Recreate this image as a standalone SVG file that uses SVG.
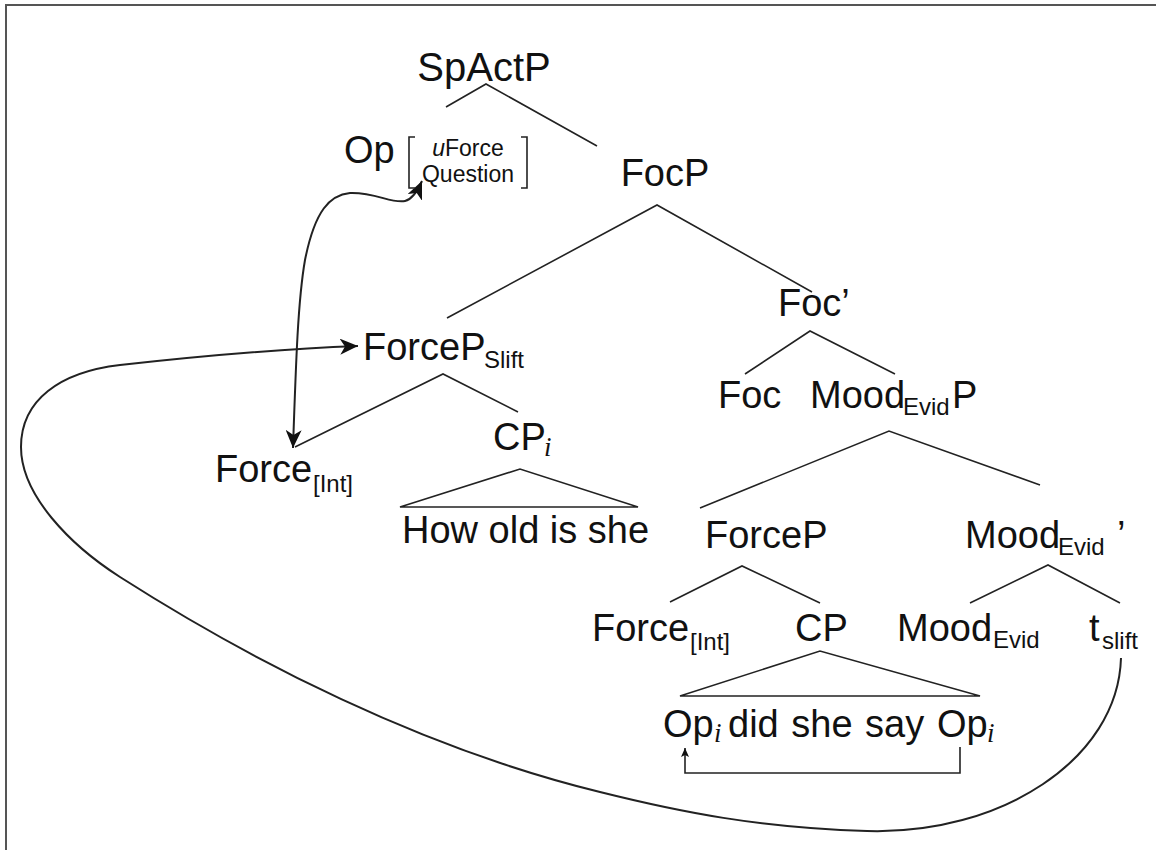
<svg xmlns="http://www.w3.org/2000/svg" width="1156" height="850" viewBox="0 0 1156 850">
<style>
text{font-family:"Liberation Sans",Arial,sans-serif;fill:#111;}
.n{font-size:38px;}
.s{font-size:24px;}
.m{font-size:23px;}
.i{font-family:"Liberation Serif","Times New Roman",serif;font-style:italic;font-size:27px;}
.br{fill:none;stroke:#222;stroke-width:1.6;}
.e{stroke:#222;stroke-width:1.6;fill:none;}
.c{stroke:#222;stroke-width:2;fill:none;}
</style>
<defs>
<marker id="ah" markerUnits="userSpaceOnUse" markerWidth="20" markerHeight="16" refX="18" refY="8" orient="auto-start-reverse">
<path d="M0,0 L18,8 L0,16 L5,8 z" fill="#111"/>
</marker>
<marker id="ahs" markerUnits="userSpaceOnUse" markerWidth="10" markerHeight="10" refX="9" refY="4" orient="auto">
<path d="M0,0 L9,4 L0,8 L2,4 z" fill="#111"/>
</marker>
</defs>
<rect x="6" y="5" width="1170" height="870" fill="#fff" stroke="#555" stroke-width="2"/>

<g id="edges">
<path class="e" d="M446,107 L486,84 L597,146"/>
<path class="e" d="M447,318 L657,205 L812,292"/>
<path class="e" d="M745,374 L810,331 L895,374"/>
<path class="e" d="M700,508 L889,431 L1040,485"/>
<path class="e" d="M670,602 L742,566 L820,603"/>
<path class="e" d="M970,603 L1048,565 L1120,603"/>
<path class="e" d="M295,447 L443,374 L518,412"/>
<path class="e" d="M400,507 L520,469 L638,507 Z"/>
<path class="e" d="M680,696 L820,651 L980,696 Z"/>
<path class="e" d="M960,747 L960,773 L685,773 L685,748" marker-end="url(#ahs)"/>
<path class="c" d="M293,448 C296,360 298,300 305,260 C315,210 330,195 350,193 C375,192 392,204 405,201 C413,199 418,190 422,181" marker-start="url(#ah)" marker-end="url(#ah)"/>
<path class="c" d="M1121,658 C1118,760 1000,835 867,831 C760,828 680,812 600,792 C420,748 250,660 120,577 C70,545 21,495 21,447 C21,400 60,372 120,365 C200,356 280,349 358,346" marker-end="url(#ah)"/>
</g>

<g id="spactp"><text x="484" y="81" text-anchor="middle" style="font-size:40px">SpActP</text></g>
<g id="op">
<text class="n" x="344" y="163">Op</text>
<path class="br" d="M415,137 L409,137 L409,188 L415,188"/>
<path class="br" d="M521,137 L527,137 L527,188 L521,188"/>
<text class="m" x="468" y="156" text-anchor="middle"><tspan font-style="italic">u</tspan>Force</text>
<text class="m" x="468" y="182" text-anchor="middle">Question</text>
</g>
<g id="focp"><text class="n" x="665" y="186" text-anchor="middle">FocP</text></g>
<g id="focbar"><text class="n" x="778" y="316">Foc’</text></g>
<g id="foc"><text class="n" x="718" y="408">Foc</text></g>
<g id="moodevidp"><text class="n" x="810" y="408">Mood</text><text class="s" x="903" y="415">Evid</text><text class="n" x="952" y="408">P</text></g>
<g id="forcep"><text class="n" x="705" y="548">ForceP</text></g>
<g id="moodevidbar"><text class="n" x="965" y="548">Mood</text><text class="s" x="1058" y="555">Evid</text><text class="n" x="1117" y="548">’</text></g>
<g id="force2"><text class="n" x="592" y="641">Force</text><text class="s" x="690" y="650">[Int]</text></g>
<g id="cp"><text class="n" x="795" y="641">CP</text></g>
<g id="moodevid"><text class="n" x="897" y="641">Mood</text><text class="s" x="993" y="648">Evid</text></g>
<g id="tslift"><text class="n" x="1089" y="641">t</text><text class="s" x="1102" y="649">slift</text></g>
<g id="cpyield"><text class="n" x="663" y="737">Op</text><text class="i" x="714" y="742">i</text><text class="n" x="728" y="737" word-spacing="2">did she say</text><text class="n" x="937" y="737">Op</text><text class="i" x="987" y="742">i</text></g>
<g id="forcepslift"><text class="n" x="363" y="360">ForceP</text><text class="s" x="484" y="368">Slift</text></g>
<g id="force1"><text class="n" x="215" y="482">Force</text><text class="s" x="313" y="492">[Int]</text></g>
<g id="cpi"><text class="n" x="493" y="450">CP</text><text class="i" x="544" y="456">i</text></g>
<g id="howold"><text class="n" x="402" y="543">How old is she</text></g>
</svg>
